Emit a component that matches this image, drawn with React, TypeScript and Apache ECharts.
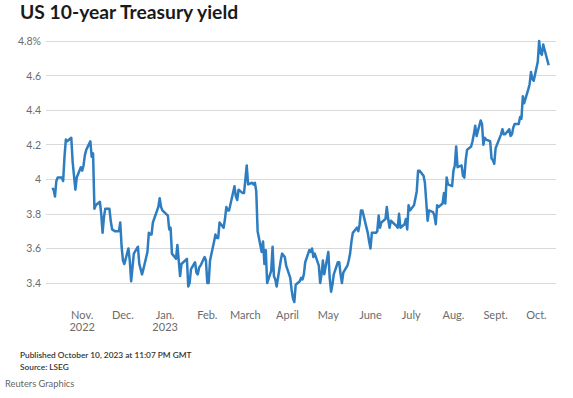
import React, { useEffect, useRef } from "react";
import * as echarts from "echarts";

const dates: string[] = [
  "2022-10-10","2022-10-11","2022-10-12","2022-10-13","2022-10-14","2022-10-17","2022-10-18","2022-10-19","2022-10-20","2022-10-21",
  "2022-10-24","2022-10-25","2022-10-26","2022-10-27","2022-10-28","2022-10-31","2022-11-01","2022-11-02","2022-11-03","2022-11-04",
  "2022-11-07","2022-11-08","2022-11-09","2022-11-10","2022-11-11","2022-11-14","2022-11-15","2022-11-16","2022-11-17","2022-11-18",
  "2022-11-21","2022-11-22","2022-11-23","2022-11-25","2022-11-28","2022-11-29","2022-11-30","2022-12-01","2022-12-02","2022-12-05",
  "2022-12-06","2022-12-07","2022-12-08","2022-12-09","2022-12-12","2022-12-13","2022-12-14","2022-12-15","2022-12-16","2022-12-19",
  "2022-12-20","2022-12-21","2022-12-22","2022-12-23","2022-12-27","2022-12-28","2022-12-29","2022-12-30","2023-01-03","2023-01-04",
  "2023-01-05","2023-01-06","2023-01-09","2023-01-10","2023-01-11","2023-01-12","2023-01-13","2023-01-17","2023-01-18","2023-01-19",
  "2023-01-20","2023-01-23","2023-01-24","2023-01-25","2023-01-26","2023-01-27","2023-01-30","2023-01-31","2023-02-01","2023-02-02",
  "2023-02-03","2023-02-06","2023-02-07","2023-02-08","2023-02-09","2023-02-10","2023-02-13","2023-02-14","2023-02-15","2023-02-16",
  "2023-02-17","2023-02-21","2023-02-22","2023-02-23","2023-02-24","2023-02-27","2023-02-28","2023-03-01","2023-03-02","2023-03-03",
  "2023-03-06","2023-03-07","2023-03-08","2023-03-09","2023-03-10","2023-03-13","2023-03-14","2023-03-15","2023-03-16","2023-03-17",
  "2023-03-20","2023-03-21","2023-03-22","2023-03-23","2023-03-24","2023-03-27","2023-03-28","2023-03-29","2023-03-30","2023-03-31",
  "2023-04-03","2023-04-04","2023-04-05","2023-04-06","2023-04-07","2023-04-10","2023-04-11","2023-04-12","2023-04-13","2023-04-14",
  "2023-04-17","2023-04-18","2023-04-19","2023-04-20","2023-04-21","2023-04-24","2023-04-25","2023-04-26","2023-04-27","2023-04-28",
  "2023-05-01","2023-05-02","2023-05-03","2023-05-04","2023-05-05","2023-05-08","2023-05-09","2023-05-10","2023-05-11","2023-05-12",
  "2023-05-15","2023-05-16","2023-05-17","2023-05-18","2023-05-19","2023-05-22","2023-05-23","2023-05-24","2023-05-25","2023-05-26",
  "2023-05-30","2023-05-31","2023-06-01","2023-06-02","2023-06-05","2023-06-06","2023-06-07","2023-06-08","2023-06-09","2023-06-12",
  "2023-06-13","2023-06-14","2023-06-15","2023-06-16","2023-06-20","2023-06-21","2023-06-22","2023-06-23","2023-06-26","2023-06-27",
  "2023-06-28","2023-06-29","2023-06-30","2023-07-03","2023-07-05","2023-07-06","2023-07-07","2023-07-10","2023-07-11","2023-07-12",
  "2023-07-13","2023-07-14","2023-07-17","2023-07-18","2023-07-19","2023-07-20","2023-07-21","2023-07-24","2023-07-25","2023-07-26",
  "2023-07-27","2023-07-28","2023-07-31","2023-08-01","2023-08-02","2023-08-03","2023-08-04","2023-08-07","2023-08-08","2023-08-09",
  "2023-08-10","2023-08-11","2023-08-14","2023-08-15","2023-08-16","2023-08-17","2023-08-18","2023-08-21","2023-08-22","2023-08-23",
  "2023-08-24","2023-08-25","2023-08-28","2023-08-29","2023-08-30","2023-08-31","2023-09-01","2023-09-05","2023-09-06","2023-09-07",
  "2023-09-08","2023-09-11","2023-09-12","2023-09-13","2023-09-14","2023-09-15","2023-09-18","2023-09-19","2023-09-20","2023-09-21",
  "2023-09-22","2023-09-25","2023-09-26","2023-09-27","2023-09-28","2023-09-29","2023-10-02","2023-10-03","2023-10-04","2023-10-05",
  "2023-10-06","2023-10-10",
];

const yields: number[] = [
  3.95,3.94,3.90,3.99,4.01,4.01,3.99,4.13,4.23,4.22,
  4.24,4.10,4.02,3.94,4.01,4.07,4.05,4.08,4.14,4.17,
  4.22,4.13,4.15,3.83,3.85,3.87,3.80,3.69,3.78,3.83,
  3.83,3.76,3.71,3.70,3.70,3.75,3.61,3.53,3.51,3.60,
  3.53,3.41,3.49,3.57,3.61,3.51,3.48,3.45,3.48,3.58,
  3.69,3.68,3.68,3.75,3.84,3.89,3.84,3.82,3.79,3.71,
  3.72,3.57,3.54,3.62,3.53,3.44,3.51,3.54,3.38,3.40,
  3.48,3.52,3.46,3.45,3.49,3.50,3.55,3.53,3.40,3.40,
  3.53,3.64,3.68,3.66,3.66,3.75,3.72,3.77,3.84,3.82,
  3.82,3.96,3.90,3.88,3.94,3.92,3.92,4.00,4.08,3.97,
  3.98,3.97,3.98,3.93,3.70,3.58,3.64,3.51,3.59,3.40,
  3.47,3.61,3.44,3.42,3.38,3.53,3.57,3.56,3.55,3.50,
  3.43,3.36,3.31,3.29,3.39,3.41,3.43,3.42,3.45,3.52,
  3.59,3.58,3.60,3.55,3.57,3.50,3.40,3.45,3.53,3.45,
  3.58,3.43,3.35,3.39,3.45,3.52,3.52,3.45,3.40,3.46,
  3.50,3.53,3.57,3.64,3.69,3.72,3.70,3.74,3.82,3.82,
  3.69,3.64,3.60,3.69,3.69,3.70,3.79,3.72,3.75,3.77,
  3.84,3.77,3.72,3.76,3.73,3.72,3.80,3.72,3.74,3.77,
  3.71,3.85,3.82,3.85,3.93,4.05,4.05,4.02,3.98,3.87,
  3.76,3.82,3.81,3.79,3.74,3.85,3.84,3.86,3.92,3.86,
  4.01,3.97,3.96,4.05,4.08,4.19,4.07,4.08,4.02,4.01,
  4.11,4.17,4.19,4.22,4.26,4.31,4.25,4.34,4.32,4.20,
  4.24,4.23,4.22,4.12,4.11,4.09,4.18,4.26,4.29,4.26,
  4.26,4.29,4.25,4.26,4.30,4.32,4.32,4.36,4.35,4.48,
  4.44,4.52,4.55,4.62,4.58,4.57,4.68,4.80,4.73,4.72,
  4.78,4.66,
];

const monthTicks: string[] = [
  "2022-11-01","2022-12-01","2023-01-01","2023-02-01","2023-03-01","2023-04-01",
  "2023-05-01","2023-06-01","2023-07-01","2023-08-01","2023-09-01","2023-10-01",
];
const monthLabels: string[] = [
  "Nov.\n2022","Dec.","Jan.\n2023","Feb.","March","April","May","June","July","Aug.","Sept.","Oct.",
];

const yMin = 3.4;
const yMax = 4.8;
const yStep = 0.2;

const titleText = "US 10-year Treasury yield";
const publishedText = "Published October 10, 2023 at 11:07 PM GMT";
const sourceText = "Source: LSEG";
const creditText = "Reuters Graphics";

const FONT = "Lato, 'Noto Sans', sans-serif";
const DAY = 86400000;

function toTs(s: string): number {
  const [y, m, d] = s.split("-").map(Number);
  return Date.UTC(y, m - 1, d);
}

export default function App() {
  const ref = useRef<HTMLDivElement>(null);

  useEffect(() => {
    if (!ref.current) return;
    const chart = echarts.init(ref.current, undefined, { renderer: "svg" });
    const tickTs = monthTicks.map(toTs);
    const nov1 = tickTs[0];
    const xMin = nov1 - 26.6 * DAY;
    const xMax = nov1 + 348.4 * DAY;
    const seriesData = dates.map((d, i) => [toTs(d), yields[i]]);

    chart.setOption({
      animation: false,
      backgroundColor: "#ffffff",
      textStyle: { fontFamily: FONT },
      grid: { left: 46, right: 17, top: 41, bottom: 115, containLabel: false },
      xAxis: {
        type: "value",
        min: xMin,
        max: xMax,
        axisLine: { show: false },
        axisTick: { show: false },
        splitLine: { show: false },
        axisLabel: {
          customValues: tickTs,
          color: "#6b6b6b",
          fontSize: 11,
          fontFamily: FONT,
          lineHeight: 12.5,
          margin: 25,
          hideOverlap: false,
          formatter: (v: number) => {
            let best = 0;
            let bd = Infinity;
            tickTs.forEach((t, i) => {
              const dd = Math.abs(t - v);
              if (dd < bd) { bd = dd; best = i; }
            });
            return bd < DAY ? monthLabels[best] : "";
          },
        },
      },
      yAxis: {
        type: "value",
        min: yMin,
        max: yMax,
        interval: yStep,
        axisLine: { show: false },
        axisTick: { show: false },
        splitLine: { show: true, lineStyle: { color: "#d9d9d9", width: 1 } },
        axisLabel: {
          color: "#6b6b6b",
          fontSize: 10.5,
          fontFamily: FONT,
          margin: 5,
          formatter: (v: number) => {
            const r = Math.round(v * 10) / 10;
            return r === yMax ? `${r}%` : `${r}`;
          },
        },
      },
      series: [
        {
          type: "line",
          data: seriesData,
          showSymbol: false,
          clip: false,
          lineStyle: { color: "#2d7dc0", width: 2.5, join: "round" },
          itemStyle: { color: "#2d7dc0" },
        },
      ],
      graphic: [
        {
          type: "text",
          left: 20,
          top: 2,
          style: { text: titleText, fontSize: 19.3, fontWeight: "bold", fontFamily: FONT, fill: "#1a1a1a" },
        },
        {
          type: "text",
          left: 20,
          top: 350.5,
          style: { text: publishedText, fontSize: 8.3, fontWeight: 600, fontFamily: FONT, fill: "#333333" },
        },
        {
          type: "text",
          left: 20,
          top: 363,
          style: { text: sourceText, fontSize: 8.3, fontWeight: 600, fontFamily: FONT, fill: "#333333" },
        },
        {
          type: "text",
          left: 5,
          top: 379,
          style: { text: creditText, fontSize: 9.3, fontFamily: FONT, fill: "#666666" },
        },
      ],
    });
    return () => chart.dispose();
  }, []);

  return (
    <div
      ref={ref}
      style={{ position: "absolute", left: 0, top: 0, width: 573, height: 398, background: "#fff" }}
    />
  );
}
